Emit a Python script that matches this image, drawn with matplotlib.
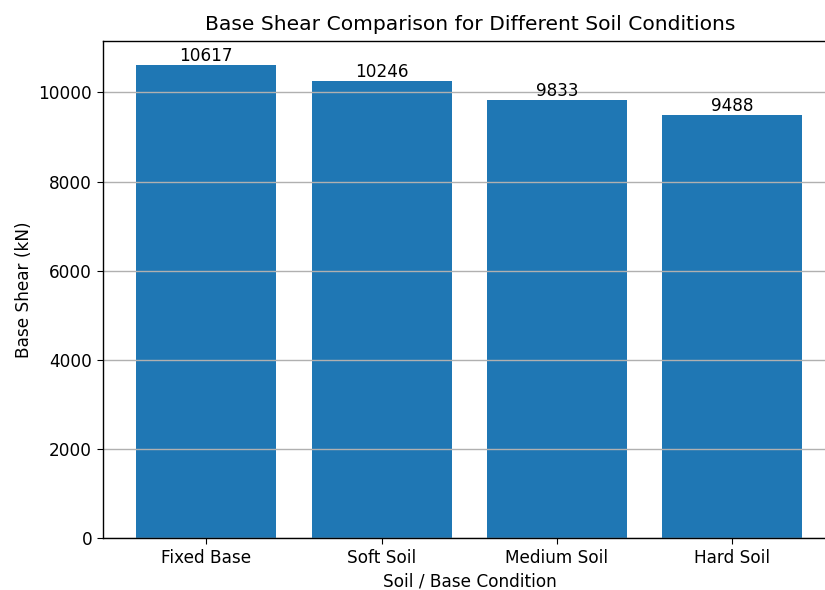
import matplotlib
matplotlib.use("Agg")
import matplotlib.pyplot as plt

conditions = ["Fixed Base", "Soft Soil", "Medium Soil", "Hard Soil"]
base_shear = [10617, 10246, 9833, 9488]

plt.rcParams["font.size"] = 12.2
plt.rcParams["xtick.major.size"] = 4.3
plt.rcParams["ytick.major.size"] = 4.3
plt.rcParams["axes.linewidth"] = 1.0

fig = plt.figure(figsize=(8.25, 5.9), dpi=100)
# the original image is cut off on the right, so the axes run to the edge
ax = fig.add_axes([0.1248, 0.088, 0.8752, 0.842])

bars = ax.bar(conditions, base_shear, color="#1f77b4")
ax.bar_label(bars, labels=[str(v) for v in base_shear])
ax.set_xlim(-0.59, 3.53)
ax.spines["right"].set_visible(False)

ax.set_title("Base Shear Comparison for Different Soil Conditions", fontsize=14.6, pad=8,
             x=0.5 + 0.0085)
ax.set_xlabel("Soil / Base Condition", x=0.5 + 0.0085)
ax.set_ylabel("Base Shear (kN)")
ax.grid(axis="y", linewidth=1.0)

fig.savefig("out.png", dpi=100)
